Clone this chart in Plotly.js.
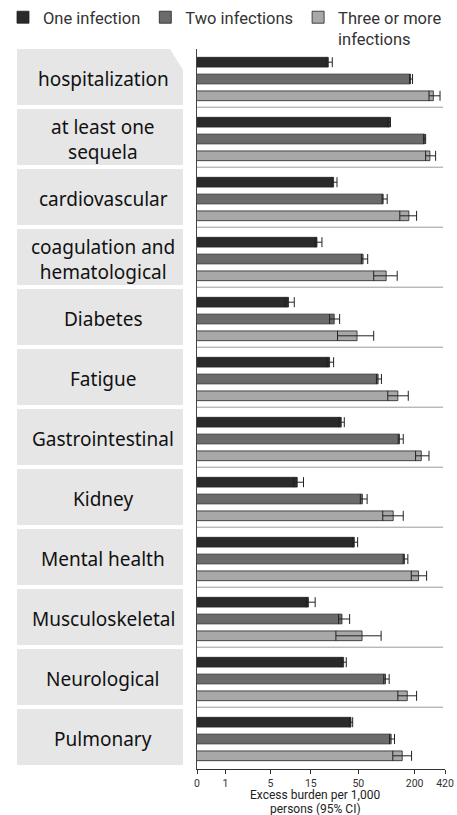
<!DOCTYPE html>
<html>
<head>
<meta charset="utf-8">
<script src="https://cdn.plot.ly/plotly-3.0.1.min.js"></script>
<style>html,body{margin:0;padding:0;background:#fff;}#chart{width:457px;height:815px;}</style>
</head>
<body>
<div id="chart"></div>
<script>
// ---- data (excess burden per 1,000 persons, with 95% CI) ----
const categories = ['hospitalization', 'at least one<br>sequela', 'cardiovascular', 'coagulation and<br>hematological',
  'Diabetes', 'Fatigue', 'Gastrointestinal', 'Kidney', 'Mental health', 'Musculoskeletal', 'Neurological', 'Pulmonary'];
const seriesNames = ['One infection', 'Two infections', 'Three or more<br>infections'];

const oneVal = [23.5, 108.6, 26.9, 17.6, 8.3, 24.3, 32.6, 10.5, 45.2, 14.1, 34.6, 41.6];
const oneLo  = [22.3, 103.4, 25.8, 16.8, 7.6, 22.7, 30.5, 9.5, 43.4, 13.3, 32.6, 40.2];
const oneHi  = [26.0, 110.5, 29.3, 20.0, 9.7, 26.9, 35.2, 12.4, 49.1, 16.8, 37.0, 43.4];

const twoVal = [181, 255, 92.3, 56.2, 27.3, 81.5, 138, 55.2, 156, 33.2, 97.7, 112.4];
const twoLo  = [176.5, 249, 90, 53.9, 24.3, 78.2, 133.7, 52.5, 151, 30.5, 93.7, 107.9];
const twoHi  = [190, 261.6, 101.9, 63, 31.3, 88.5, 151.2, 62.1, 169.3, 40.2, 107, 122];

const threeVal = [316, 290.7, 173.5, 99.4, 48.4, 132.4, 235.4, 118.2, 220.2, 54.8, 166.9, 147.5];
const threeLo  = [284, 261.6, 139, 73.1, 29.7, 103.4, 204.6, 91.4, 184.1, 28.5, 132.4, 117];
const threeHi  = [372, 334, 209.7, 130.4, 73.1, 171, 284, 151.2, 268, 87.8, 209.7, 185.5];

const tickValues = [0, 1, 5, 15, 50, 200, 420];
const tickLabels = ['0', '1', '5', '15', '50', '200', '420'];
const xTitleLines = ['Excess burden per 1,000', 'persons (95% CI)'];

// ---- styling ----
const colors = ['#2a2a2a', '#6b6b6b', '#a8a8a8'];
const labelFont = 'Noto Sans, DejaVu Sans, sans-serif';
const uiFont = 'Roboto, Inter, Open Sans, sans-serif';

// axis shows log10(value + 1)
const shift = v => v + 1;

function makeTrace(name, vals, lo, hi, color) {
  return {
    type: 'bar', orientation: 'h', name: name,
    y: categories,
    x: vals.map(shift),
    marker: {color: color, line: {color: '#222', width: 0.8}},
    error_x: {
      type: 'data', symmetric: false,
      array: hi.map((h, i) => h - vals[i]),
      arrayminus: lo.map((l, i) => vals[i] - l),
      color: '#222', thickness: 1, width: 5
    },
    hoverinfo: 'skip'
  };
}

const data = [
  makeTrace(seriesNames[0], oneVal, oneLo, oneHi, colors[0]),
  makeTrace(seriesNames[1], twoVal, twoLo, twoHi, colors[1]),
  makeTrace(seriesNames[2], threeVal, threeLo, threeHi, colors[2])
];

// ---- decorations: label boxes, separators ----
const n = categories.length;
const W = 248, H = 720; // plot area size in px
const px2paperX = p => (p - 197) / W;
const px2paperY = p => (769 - p) / H;
const boxL = px2paperX(17), boxR = px2paperX(183);
const shapes = [];
const annotations = [];
for (let i = 0; i < n; i++) {
  const top = 1 - (i) / n;            // top edge of band i
  const bot = 1 - (i + 0.933) / n;    // bottom edge of grey box
  let path;
  if (i === 0) {
    const cx = px2paperX(170);
    const cy = top - 21 / H;
    path = `M${boxL},${bot} L${boxL},${top} L${cx},${top} L${boxR},${cy} L${boxR},${bot} Z`;
  } else {
    path = `M${boxL},${bot} L${boxL},${top} L${boxR},${top} L${boxR},${bot} Z`;
  }
  shapes.push({type: 'path', xref: 'paper', yref: 'paper', path: path,
    fillcolor: '#e6e6e6', line: {width: 0}, layer: 'below'});
  if (i < n - 1) {
    shapes.push({type: 'line', xref: 'paper', yref: 'y', x0: 0, x1: px2paperX(443),
      y0: i + 0.47, y1: i + 0.47, line: {color: '#9a9a9a', width: 1}});
  }
  annotations.push({xref: 'paper', yref: 'y', x: px2paperX(103), y: categories[i],
    text: categories[i], showarrow: false, xanchor: 'center', yanchor: 'middle', yshift: 0,
    font: {family: labelFont, size: 19, color: '#111'}});
}
// x-axis title (two lines, tight spacing like the reference)
[795, 809.5].forEach((py, k) => {
  annotations.push({xref: 'paper', yref: 'paper', x: px2paperX(315), y: px2paperY(py),
    text: xTitleLines[k], showarrow: false, xanchor: 'center', yanchor: 'middle',
    font: {family: uiFont, size: 12, color: '#222'}});
});

const layout = {
  width: 457, height: 815,
  margin: {l: 197, r: 12, t: 49, b: 46, autoexpand: false},
  paper_bgcolor: '#fff', plot_bgcolor: '#fff',
  barmode: 'group', bargap: 0.16, bargroupgap: 0.42,
  showlegend: true,
  legend: {orientation: 'h', x: px2paperX(3), xanchor: 'left', y: 1 + 49 / H, yanchor: 'top',
    valign: 'top', font: {family: uiFont, size: 16.5, color: '#333'}, traceorder: 'normal',
    itemclick: false, bgcolor: 'rgba(0,0,0,0)'},
  xaxis: {
    type: 'log', range: [0, Math.log10(421)],
    tickvals: tickValues.map(shift), ticktext: tickLabels, tickmode: 'array',
    showgrid: false, zeroline: false, showline: true, linecolor: '#333', linewidth: 1,
    ticks: 'outside', ticklen: 4, tickcolor: '#333',
    tickfont: {family: uiFont, size: 10.5, color: '#333'}
  },
  yaxis: {
    type: 'category', autorange: 'reversed', showticklabels: false, ticks: '',
    showgrid: false, zeroline: false, showline: true, linecolor: '#444', linewidth: 1
  },
  shapes: shapes,
  annotations: annotations
};

Plotly.newPlot('chart', data, layout, {displayModeBar: false, staticPlot: true});
</script>
</body>
</html>
